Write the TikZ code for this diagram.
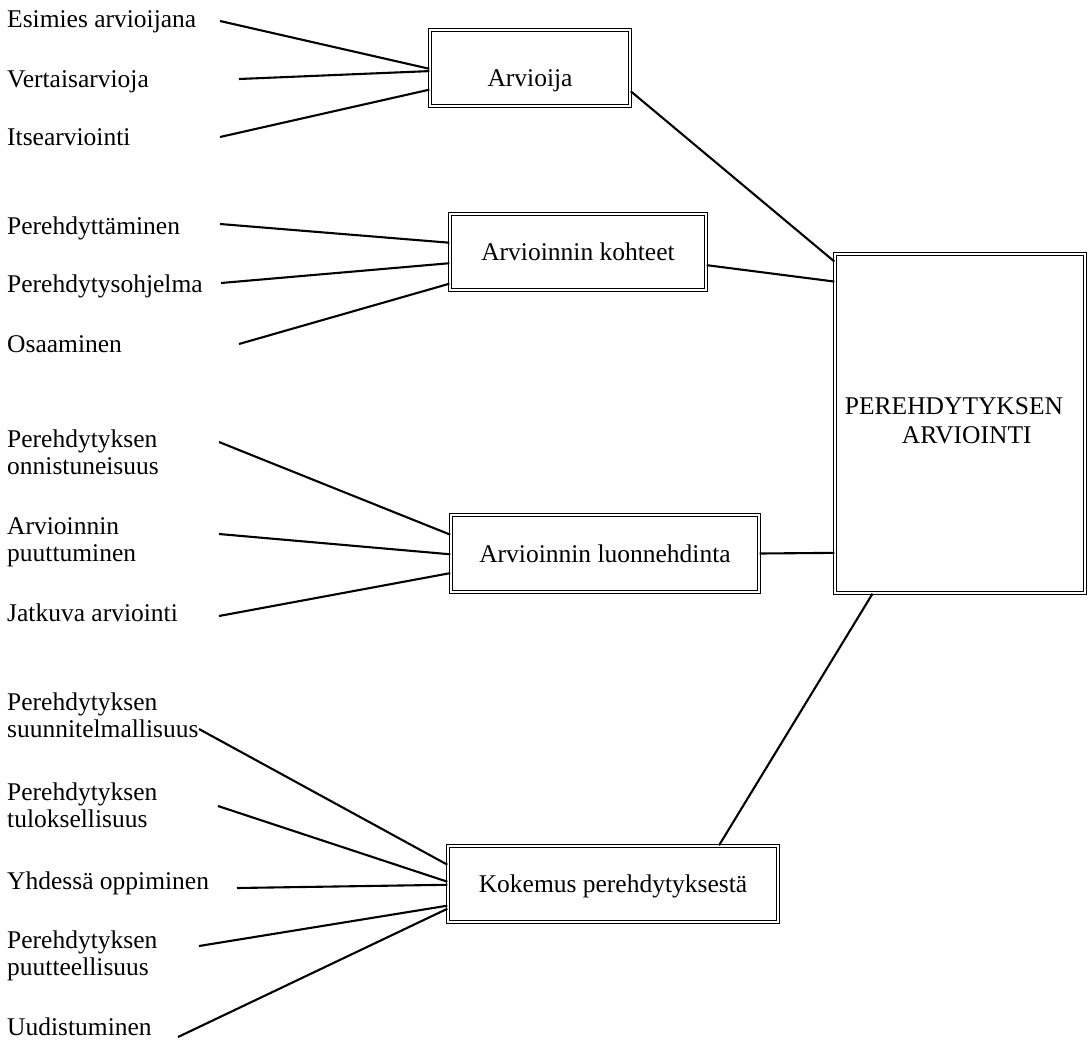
\documentclass[tikz,border=0pt]{standalone}
\usepackage{fontspec}
\setmainfont{Liberation Serif}
\usetikzlibrary{calc}
\newcommand\twol[2]{\parbox[t]{260pt}{#1\\#2}}
\begin{document}
\begin{tikzpicture}[x=1pt,y=-1pt,
  lab/.style={anchor=base west, inner sep=0pt, font=\fontsize{25.5}{27}\selectfont},
  frame/.style={draw, line width=1.4pt, double=white, double distance=1.3pt, inner sep=0pt},
  box/.style={frame, font=\fontsize{25.5}{27}\selectfont, text height=17.5pt, text depth=0pt},
  ln/.style={line width=2.1pt}]
\useasboundingbox[fill=white] (0,0) rectangle (1089,1042);

% boxes
\node[box, minimum width=200pt, minimum height=76pt, text height=37pt] (arv) at (530,68) {Arvioija};
\node[box, minimum width=256pt, minimum height=76pt] (koh) at (578,252) {Arvioinnin kohteet};
\node[box, minimum width=308pt, minimum height=77pt] (luo) at (605,553.5) {Arvioinnin luonnehdinta};
\node[box, minimum width=330pt, minimum height=76pt] (kok) at (613,884) {Kokemus perehdytyksestä};
\node[frame, minimum width=250pt, minimum height=339pt, align=left,
      font=\fontsize{25.5}{29}\selectfont] (big) at (960,423.5)
      {PEREHDYTYKSEN\hspace*{12pt}\\\hspace*{57pt}ARVIOINTI\vphantom{p}};

% labels
\node[lab] (e1) at (7,27) {Esimies arvioijana};
\node[lab] (e2) at (7,87) {Vertaisarvioja};
\node[lab] (e3) at (7,145) {Itsearviointi};
\node[lab] (k1) at (7,234) {Perehdyttäminen};
\node[lab] (k2) at (7,292) {Perehdytysohjelma};
\node[lab] (k3) at (7,352) {Osaaminen};
\node[lab] (l1) at (7,447) {\twol{Perehdytyksen}{onnistuneisuus}};
\node[lab] (l2) at (7,534) {\twol{Arvioinnin}{puuttuminen}};
\node[lab] (l3) at (7,621) {Jatkuva arviointi};
\node[lab] (p1) at (7,710) {\twol{Perehdytyksen}{suunnitelmallisuus}};
\node[lab] (p2) at (7,800) {\twol{Perehdytyksen}{tuloksellisuus}};
\node[lab] (p3) at (7,889) {Yhdessä oppiminen};
\node[lab] (p4) at (7,948) {\twol{Perehdytyksen}{puutteellisuus}};
\node[lab] (p5) at (7,1035) {Uudistuminen};

% free ends of connectors
\coordinate (ce1) at (220,21);
\coordinate (ce2) at (239,79);
\coordinate (ce3) at (220,137);
\coordinate (ck1) at (220,224);
\coordinate (ck2) at (221,283);
\coordinate (ck3) at (239,344);
\coordinate (cl1) at (219,442);
\coordinate (cl2) at (219,534);
\coordinate (cl3) at (219,616);
\coordinate (cp1) at (199,729);
\coordinate (cp2) at (218,806);
\coordinate (cp3) at (237,888);
\coordinate (cp4) at (199,946);
\coordinate (cp5) at (178,1037);

% connectors to Arvioija
\draw[ln] (ce1) -- ($(arv.north west)!0.51!(arv.south west)$);
\draw[ln] (ce2) -- ($(arv.north west)!0.54!(arv.south west)$);
\draw[ln] (ce3) -- ($(arv.north west)!0.78!(arv.south west)$);
% connectors to kohteet
\draw[ln] (ck1) -- ($(koh.north west)!0.38!(koh.south west)$);
\draw[ln] (ck2) -- ($(koh.north west)!0.645!(koh.south west)$);
\draw[ln] (ck3) -- ($(koh.north west)!0.91!(koh.south west)$);
% connectors to luonnehdinta
\draw[ln] (cl1) -- ($(luo.north west)!0.26!(luo.south west)$);
\draw[ln] (cl2) -- ($(luo.north west)!0.51!(luo.south west)$);
\draw[ln] (cl3) -- ($(luo.north west)!0.75!(luo.south west)$);
% connectors to kokemus
\draw[ln] (cp1) -- ($(kok.north west)!0.25!(kok.south west)$);
\draw[ln] (cp2) -- ($(kok.north west)!0.47!(kok.south west)$);
\draw[ln] (cp3) -- ($(kok.north west)!0.51!(kok.south west)$);
\draw[ln] (cp4) -- ($(kok.north west)!0.78!(kok.south west)$);
\draw[ln] (cp5) -- ($(kok.north west)!0.82!(kok.south west)$);

% boxes to main box
\draw[ln] ($(arv.north east)!0.8!(arv.south east)$) -- ($(big.north west)!0.024!(big.south west)$);
\draw[ln] ($(koh.north east)!0.67!(koh.south east)$) -- ($(big.north west)!0.083!(big.south west)$);
\draw[ln] (luo.east) -- ($(big.north west)!0.88!(big.south west)$);
\draw[ln] ($(kok.north west)!0.82!(kok.north east)$) -- ($(big.south west)!0.152!(big.south east)$);
\end{tikzpicture}
\end{document}
